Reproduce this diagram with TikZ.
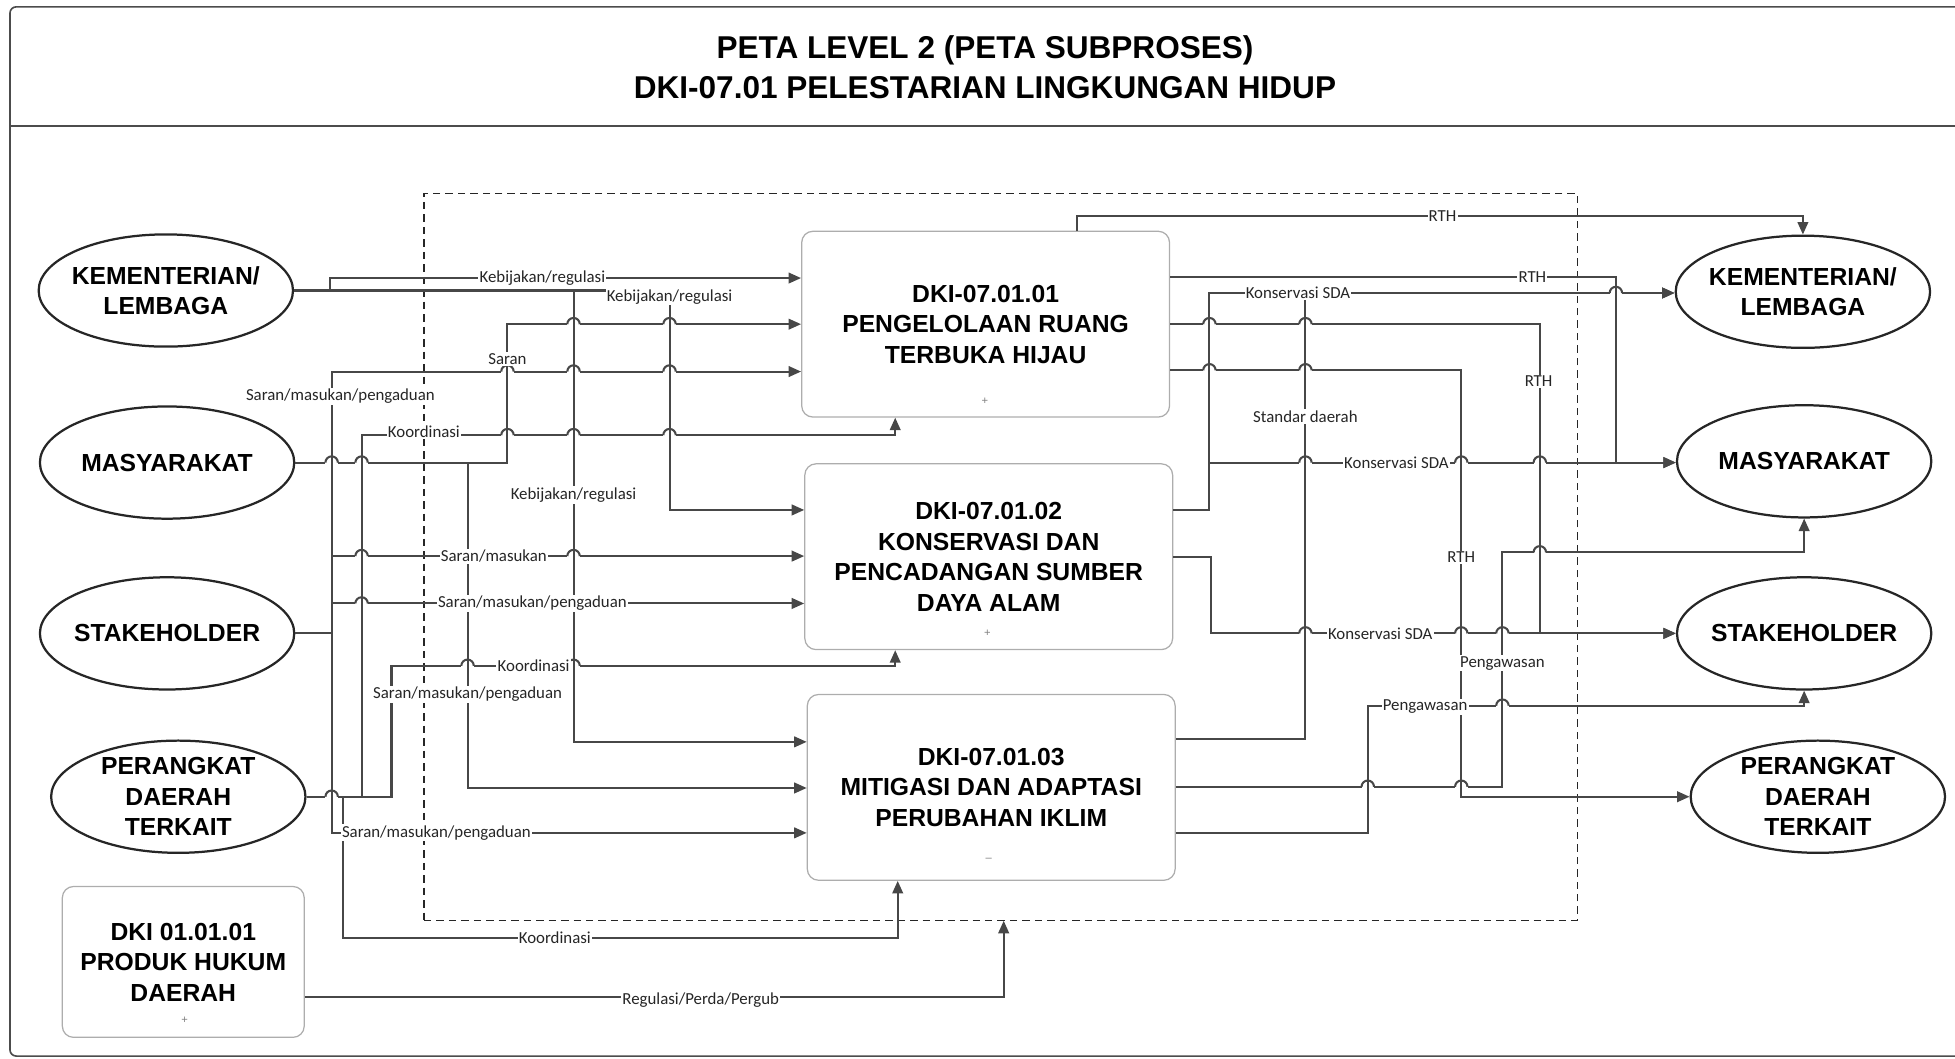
\documentclass[tikz,border=0pt]{standalone}
\usepackage{fontspec}
\setmainfont{Liberation Sans}
\newfontfamily\ketfont{Carlito}
\usetikzlibrary{arrows.meta,shapes.geometric}

\begin{document}
\begin{tikzpicture}[x=1pt,y=-1pt]
% Page is 1568 x 849 units, y grows downward like the scan.
\useasboundingbox (0,0) rectangle (1568,849);
\tikzset{
  wire/.style={draw=black!72,line width=1.65pt},
  flow/.style={wire,-{Triangle[length=10pt,width=8.5pt]}},
  pihak/.style={ellipse,draw=black!85,line width=1.8pt,minimum width=204pt,minimum height=90pt,
    inner xsep=-25pt,inner ysep=-2pt,align=center,font=\bfseries\fontsize{19.8}{24.5}\selectfont},
  subproses/.style={rectangle,rounded corners=9pt,draw=black!32,line width=1pt,
    minimum width=295pt,minimum height=149pt,align=center,font=\bfseries\fontsize{19.8}{24.5}\selectfont},
  ket/.style={font=\ketfont\fontsize{13.5}{14}\selectfont,fill=white,inner sep=1pt,text=black!85},
  tanda/.style={font=\fontsize{9}{9}\selectfont,text=black!50,inner sep=0pt},
  hop/.pic={
    \fill[white] (-5,-2.4) rectangle (5,2.4);
    \draw[wire] (0,-5.5) -- (0,5.5);
    \draw[wire] (-5,0) arc[start angle=180,end angle=360,radius=5];
  }
}

% Frame and title.
\draw[black!70,line width=1.3pt,rounded corners=5pt] (1580,5.5) -- (8,5.5) -- (8,847) -- (1580,847);
\draw[black!70,line width=1.1pt] (8,101) -- (1580,101);
\node[font=\bfseries\fontsize{25.3}{32}\selectfont,align=center] (judul) at (790,54)
  {PETA LEVEL 2 (PETA SUBPROSES)\\DKI-07.01 PELESTARIAN LINGKUNGAN HIDUP};
\node[draw=black!85,line width=1pt,dash pattern=on 6pt off 4pt,minimum width=925pt,
  minimum height=583pt,inner sep=0pt] (batas) at (802.5,446.5) {};

% Parties, left and right.
\node[pihak] (klL) at (133,233) {KEMENTERIAN/\\LEMBAGA};
\node[pihak] (masL) at (134,371) {MASYARAKAT};
\node[pihak] (stkL) at (134,508) {STAKEHOLDER};
\node[pihak] (pdL) at (143,639) {PERANGKAT\\DAERAH\\TERKAIT};
\node[pihak] (klR) at (1446,234) {KEMENTERIAN/\\LEMBAGA};
\node[pihak] (masR) at (1447,370) {MASYARAKAT};
\node[pihak] (stkR) at (1447,508) {STAKEHOLDER};
\node[pihak] (pdR) at (1458,639) {PERANGKAT\\DAERAH\\TERKAIT};

% Subprocesses.
\node[subproses] (rth) at (790.5,260) {DKI-07.01.01\\PENGELOLAAN RUANG\\TERBUKA HIJAU};
\node[subproses] (sda) at (793,446.5) {DKI-07.01.02\\KONSERVASI DAN\\PENCADANGAN SUMBER\\DAYA ALAM};
\node[subproses] (iklim) at (795,631.5) {DKI-07.01.03\\MITIGASI DAN ADAPTASI\\PERUBAHAN IKLIM};
\node[subproses,minimum width=194pt,minimum height=121pt] (hukum) at (147,771.5) {DKI 01.01.01\\PRODUK HUKUM\\DAERAH};
\node[tanda] (m1) at (790,322) {+};
\node[tanda] (m2) at (792,508) {+};
\node[tanda] (m3) at (793,690) {--};
\node[tanda] (m4) at (148,818) {+};

% Inputs.
\draw[flow] (klL.east) -| (265,223) -- (rth.west |- 0,223);
\draw[flow] (klL.east) -| (537,409) -- (sda.west |- 0,409);
\draw[flow] (klL.east) -| (460,595) -- (iklim.west |- 0,595);
\draw[flow] (masL.east) -| (407,260) -- (rth.west |- 0,260);
\draw[flow] (masL.east) -| (375,632) -- (iklim.west |- 0,632);
\draw[flow] (stkL.east) -| (266,298) -- (rth.west |- 0,298);
\draw[flow] (stkL.east) -| (266,446) -- (sda.west |- 0,446);
\draw[flow] (stkL.east) -| (266,484) -- (sda.west |- 0,484);
\draw[flow] (stkL.east) -| (266,668) -- (iklim.west |- 0,668);
\draw[flow] (pdL.east) -| (290,349) -| (rth.south -| 718,0);
\draw[flow] (pdL.east) -| (314,534) -| (sda.south -| 718,0);
\draw[flow] (pdL.east) -| (275,752) -| (iklim.south -| 720,0);
\draw[flow] (hukum.east |- 0,800) -| (batas.south -| 805,0);

% Outputs.
\draw[flow] (rth.north -| 864,0) |- (klR.north |- 0,173) -- (klR.north);
\draw[flow] (rth.east |- 0,222) -| (1296,371) -- (masR.west |- 0,371);
\draw[flow] (rth.east |- 0,260) -| (1235,508) -- (stkR.west |- 0,508);
\draw[flow] (rth.east |- 0,297) -| (1172,639) -- (pdR.west |- 0,639);
\draw[flow] (sda.east |- 0,409) -| (970,235) -- (klR.west |- 0,235);
\draw[flow] (sda.east |- 0,409) -| (970,371) -- (masR.west |- 0,371);
\draw[flow] (sda.east |- 0,447) -| (971,508) -- (stkR.west |- 0,508);
\draw[flow] (iklim.east |- 0,593) -| (1047,235) -- (klR.west |- 0,235);
\draw[flow] (iklim.east |- 0,631) -| (1205,443) -| (masR.south);
\draw[flow] (iklim.east |- 0,668) -| (1097,566) -| (stkR.south);

% Line jumps where wires cross.
\foreach \hx/\hy in {460/260,537/260,407/298,460/298,537/298,407/349,460/349,537/349,
  266/371,290/371,290/446,460/446,290/484,375/534,460/534,266/639,
  1296/235,970/260,1047/260,970/297,1047/297,1047/371,1172/371,1235/371,
  1235/443,1047/508,1172/508,1205/508,1205/566,1097/631,1172/631}
  \pic at (\hx,\hy) {hop};

% Flow labels.
\node[ket] (k1) at (435,223) {Kebijakan/regulasi};
\node[ket] (k2) at (537,238) {Kebijakan/regulasi};
\node[ket] (k3) at (460,397) {Kebijakan/regulasi};
\node[ket] (s1) at (407,288) {Saran};
\node[ket] (s2) at (273,318) {Saran/masukan/pengaduan};
\node[ket] (s3) at (396,446) {Saran/masukan};
\node[ket] (s4) at (427,484) {Saran/masukan/pengaduan};
\node[ket] (s5) at (375,557) {Saran/masukan/pengaduan};
\node[ket] (s6) at (350,668) {Saran/masukan/pengaduan};
\node[ket] (c1) at (340,346) {Koordinasi};
\node[ket] (c2) at (428,534) {Koordinasi};
\node[ket] (c3) at (445,752) {Koordinasi};
\node[ket] (r1) at (562,802) {Regulasi/Perda/Pergub};
\node[ket] (t1) at (1157,173) {RTH};
\node[ket] (t2) at (1229,222) {RTH};
\node[ket] (t3) at (1234,306) {RTH};
\node[ket] (t4) at (1172,447) {RTH};
\node[ket] (d1) at (1041,235) {Konservasi SDA};
\node[ket] (d2) at (1120,371) {Konservasi SDA};
\node[ket] (d3) at (1107,508) {Konservasi SDA};
\node[ket] (sd) at (1047,334) {Standar daerah};
\node[ket] (p1) at (1205,532) {Pengawasan};
\node[ket] (p2) at (1143,567) {Pengawasan};
\end{tikzpicture}
\end{document}
